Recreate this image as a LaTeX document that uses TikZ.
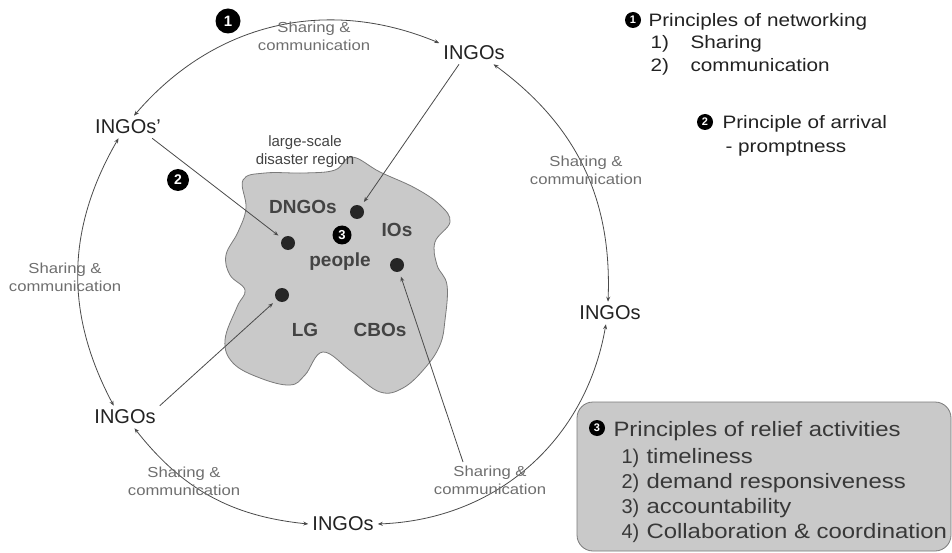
\documentclass[tikz,border=0pt]{standalone}
\usepackage{fontspec}
\setmainfont{Liberation Sans}
\newfontfamily\widefont{Liberation Sans}[FakeStretch=1.15]
\usetikzlibrary{arrows.meta}

\definecolor{linegray}{HTML}{4A4A4A}
\definecolor{labelgray}{HTML}{6E6E6E}
\definecolor{blobfill}{HTML}{C9C9C9}
\definecolor{blobline}{HTML}{7A7A7A}
\definecolor{textdark}{HTML}{222222}

\begin{document}
\begin{tikzpicture}[x=1pt, y=-1pt, >={Stealth[length=5pt,width=4pt]}]

\useasboundingbox (0,0) rectangle (952,553);

%%% Styles

\tikzstyle{ingo}=[inner sep=4pt, text=textdark, font=\fontsize{20}{24}\selectfont]
\tikzstyle{share}=[align=center, text=labelgray, font=\widefont\fontsize{14.5}{18}\selectfont]
\tikzstyle{link}=[linegray, line width=0.8pt]
\tikzstyle{actor}=[circle, fill=black!85, inner sep=0pt, minimum size=14pt]
\tikzstyle{place}=[text=textdark!85, font=\bfseries\fontsize{19}{22}\selectfont]
\tikzstyle{num}=[circle, fill=black, text=white, inner sep=0pt]
\tikzstyle{legendtext}=[anchor=base west, text=textdark, font=\widefont\fontsize{18}{22}\selectfont]
\tikzstyle{boxtext}=[anchor=base west, text=textdark!90, font=\widefont\fontsize{20.8}{25}\selectfont]
\tikzstyle{boxnum}=[anchor=base west, text=textdark!90, font=\fontsize{20}{25}\selectfont]


% Disaster region

\filldraw[fill=blobfill, draw=blobline, line width=0.8pt]
plot[smooth cycle, tension=0.65] coordinates {
(243,180) (265,173) (305,173) (335,170) (352,157) (380,172) (415,188)
(440,205) (450,222) (435,242) (437,265) (447,285) (445,320) (440,345)
(425,368) (403,388) (380,392) (352,372) (323,352) (305,375) (290,385)
(260,378) (233,363) (225,340) (237,307) (245,290) (230,275) (226,255)
(238,232) (246,208)};

\node (region) [align=center, text=textdark!85, font=\fontsize{15}{18}\selectfont] at (305,152) {large-scale\\disaster region};


%%% INGOs

\node (top) [ingo] at (474,53)  {INGOs};
\node (ul)  [ingo] at (128,127) {INGOs’};
\node (lft) [ingo] at (125,417) {INGOs};
\node (bot) [ingo] at (343,524) {INGOs};
\node (rgt) [ingo] at (610,313) {INGOs};


%%% Actors in the region

\node (d1) [actor] at (288,243) {};
\node (d2) [actor] at (357,212) {};
\node (d3) [actor] at (397,265) {};
\node (d4) [actor] at (282,295) {};

\node (dngo)   [place] at (303,207) {DNGOs};
\node (io)     [place] at (397,230) {IOs};
\node (people) [place] at (340,262) {people};
\node (lg)     [place] at (305,330) {LG};
\node (cbo)    [place] at (380,330) {CBOs};

\node (n3) [num, minimum size=19pt, font=\bfseries\fontsize{13}{13}\selectfont] at (342,235) {3};


% Sharing & communication ring

\draw[link, <->] (ul.62) to[bend left=36] (top.164);
\draw[link, <->] (top.-30) to[bend left=28] (rgt.100);
\draw[link, <->] (rgt.-110) to[bend left=39] (bot.0);
\draw[link, <->] (bot.180) to[bend left=23] (lft.-50);
\draw[link, <->] (lft.135) to[bend left=29] (ul.-130);

\node (s1) [share] at (314,36)  {Sharing \&\\communication};
\node (s2) [share] at (586,170) {Sharing \&\\communication};
\node (s3) [share] at (65,277)  {Sharing \&\\communication};
\node (s4) [share] at (184,481) {Sharing \&\\communication};
\node (s5) [share] at (490,480) {Sharing \&\\communication};


% Arrival

\coordinate (c4) at (463,462);

\draw[link, ->, shorten >=5pt] (ul.-25) -- (d1);
\draw[link, ->, shorten >=5pt] (top.-143) -- (d2);
\draw[link, ->, shorten >=5pt] (lft.north east) -- (d4);
\draw[link, ->, shorten >=5pt] (c4) -- (d3);

\node (n1) [num, minimum size=25pt, font=\bfseries\fontsize{15}{15}\selectfont] at (228,21) {1};
\node (n2) [num, minimum size=22pt, font=\bfseries\fontsize{14}{14}\selectfont] at (178,180) {2};


%%% Legend

\node (k1) [num, minimum size=16pt, font=\bfseries\fontsize{11}{11}\selectfont] at (633,20) {1};
\node (k1t) [legendtext] at (645,26.5) {Principles of networking};
\node (k1a) [legendtext] at (647,49)   {1)};
\node (k1b) [legendtext] at (687,49)   {Sharing};
\node (k1c) [legendtext] at (647,72)   {2)};
\node (k1d) [legendtext] at (687,72)   {communication};

\node (k2) [num, minimum size=16pt, font=\bfseries\fontsize{11}{11}\selectfont] at (705,122) {2};
\node (k2t) [legendtext] at (719,128.5) {Principle of arrival};
\node (k2a) [legendtext] at (722,152.5) {- promptness};

% Relief box

\draw[fill=blobfill, draw=blobline, line width=0.8pt, rounded corners=16pt] (577,402) rectangle (951,551);

\node (k3) [num, minimum size=16pt, font=\bfseries\fontsize{11}{11}\selectfont] at (597,428) {3};
\node (k3t) [boxtext] at (610,436) {Principles of relief activities};
\node (k3a) [boxnum]  at (618,463) {1)};
\node (k3b) [boxtext] at (643,463) {timeliness};
\node (k3c) [boxnum]  at (618,488) {2)};
\node (k3d) [boxtext] at (643,488) {demand responsiveness};
\node (k3e) [boxnum]  at (618,513) {3)};
\node (k3f) [boxtext] at (643,513) {accountability};
\node (k3g) [boxnum]  at (618,538) {4)};
\node (k3h) [boxtext] at (643,538) {Collaboration \& coordination};

\end{tikzpicture}
\end{document}
